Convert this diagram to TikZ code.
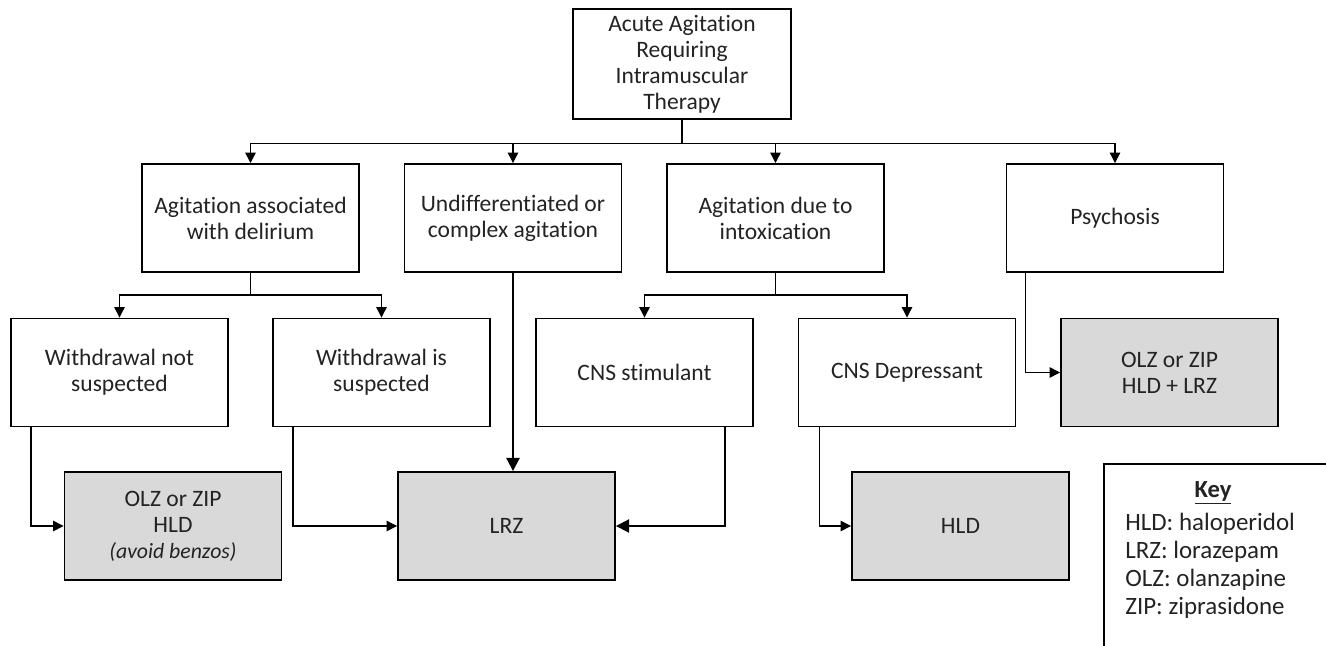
\documentclass[tikz,border=0pt]{standalone}
\usepackage{fontspec}
\setmainfont{Carlito}[Ligatures=NoCommon]
\usetikzlibrary{arrows.meta}
\definecolor{boxgray}{RGB}{217,217,217}
\definecolor{txt}{RGB}{35,35,35}

\begin{document}
\begin{tikzpicture}[x=0.02cm,y=-0.02cm,
  box/.style={draw, line width=1.1pt, minimum width=4.34cm, minimum height=2.16cm, align=center, text=txt, font=\fontsize{13.4}{14.8}\selectfont},
  drug/.style={box, fill=boxgray},
  link/.style={line width=0.7pt, -{Triangle[length=6pt,width=6pt]}},
  biglink/.style={line width=1.1pt, -{Triangle[length=7.5pt,width=7.5pt]}}]
\useasboundingbox (0,0) rectangle (1326,646);

\node[box, minimum width=4.36cm] (top) at (682,64) {Acute Agitation\\Requiring\\Intramuscular\\Therapy};

\node[box] (delir) at (250.5,218) {Agitation associated\\with delirium};
\node[box] (undiff) at (513,218) {Undifferentiated or\\complex agitation};
\node[box] (intox) at (775.5,218) {Agitation due to\\intoxication};
\node[box] (psych) at (1115,218) {Psychosis};

\node[box] (wns) at (119.5,372.5) {Withdrawal not\\suspected};
\node[box] (wis) at (381.5,372.5) {Withdrawal is\\suspected};
\node[box] (stim) at (644.5,372.5) {CNS stimulant};
\node[box] (depr) at (907,372.5) {CNS Depressant};
\node[drug] (olzhld) at (1169.5,372.5) {OLZ or ZIP\\HLD + LRZ};

\node[drug] (olz) at (173,526) {OLZ or ZIP\\HLD\\{\itshape\fontsize{12.4}{14.8}\selectfont (avoid benzos)}};
\node[drug] (lrz) at (506.5,526) {LRZ};
\node[drug] (hld) at (960.5,526) {HLD};

\draw[link] (top.south) -- ++(0,24) -| (delir.north);
\draw[link] (top.south) -- ++(0,24) -| (undiff.north);
\draw[link] (top.south) -- ++(0,24) -| (intox.north);
\draw[link] (top.south) -- ++(0,24) -| (psych.north);

\draw[link] (delir.south) -- ++(0,22) -| (wns.north);
\draw[link] (delir.south) -- ++(0,22) -| (wis.north);
\draw[link] (intox.south) -- ++(0,22) -| (stim.north);
\draw[link] (intox.south) -- ++(0,22) -| (depr.north);

\draw[link] ([xshift=0.42cm]wns.south west) |- (olz.west);
\draw[link] ([xshift=0.42cm]wis.south west) |- (lrz.west);
\draw[link] ([xshift=0.44cm]depr.south west) |- (hld.west);
\draw[link] ([xshift=0.4cm]psych.south west) |- (olzhld.west);
\draw[biglink] (undiff.south) -- (undiff.south |- lrz.north);
\draw[biglink] ([xshift=-0.58cm]stim.south east) |- (lrz.east);

\node[draw, line width=0.9pt, minimum width=6cm, minimum height=5cm, anchor=north west] (key) at (1103,463) {};
\node[text=txt, font=\fontsize{14}{15}\selectfont\bfseries] (keyhead) at (1213,493) {\underline{Key}};
\node[text=txt, font=\fontsize{14.2}{15.9}\selectfont, align=left, anchor=north west, inner sep=0pt] (keylist) at (1125,513) {HLD: haloperidol\\LRZ: lorazepam\\OLZ: olanzapine\\ZIP: ziprasidone};
\end{tikzpicture}
\end{document}
